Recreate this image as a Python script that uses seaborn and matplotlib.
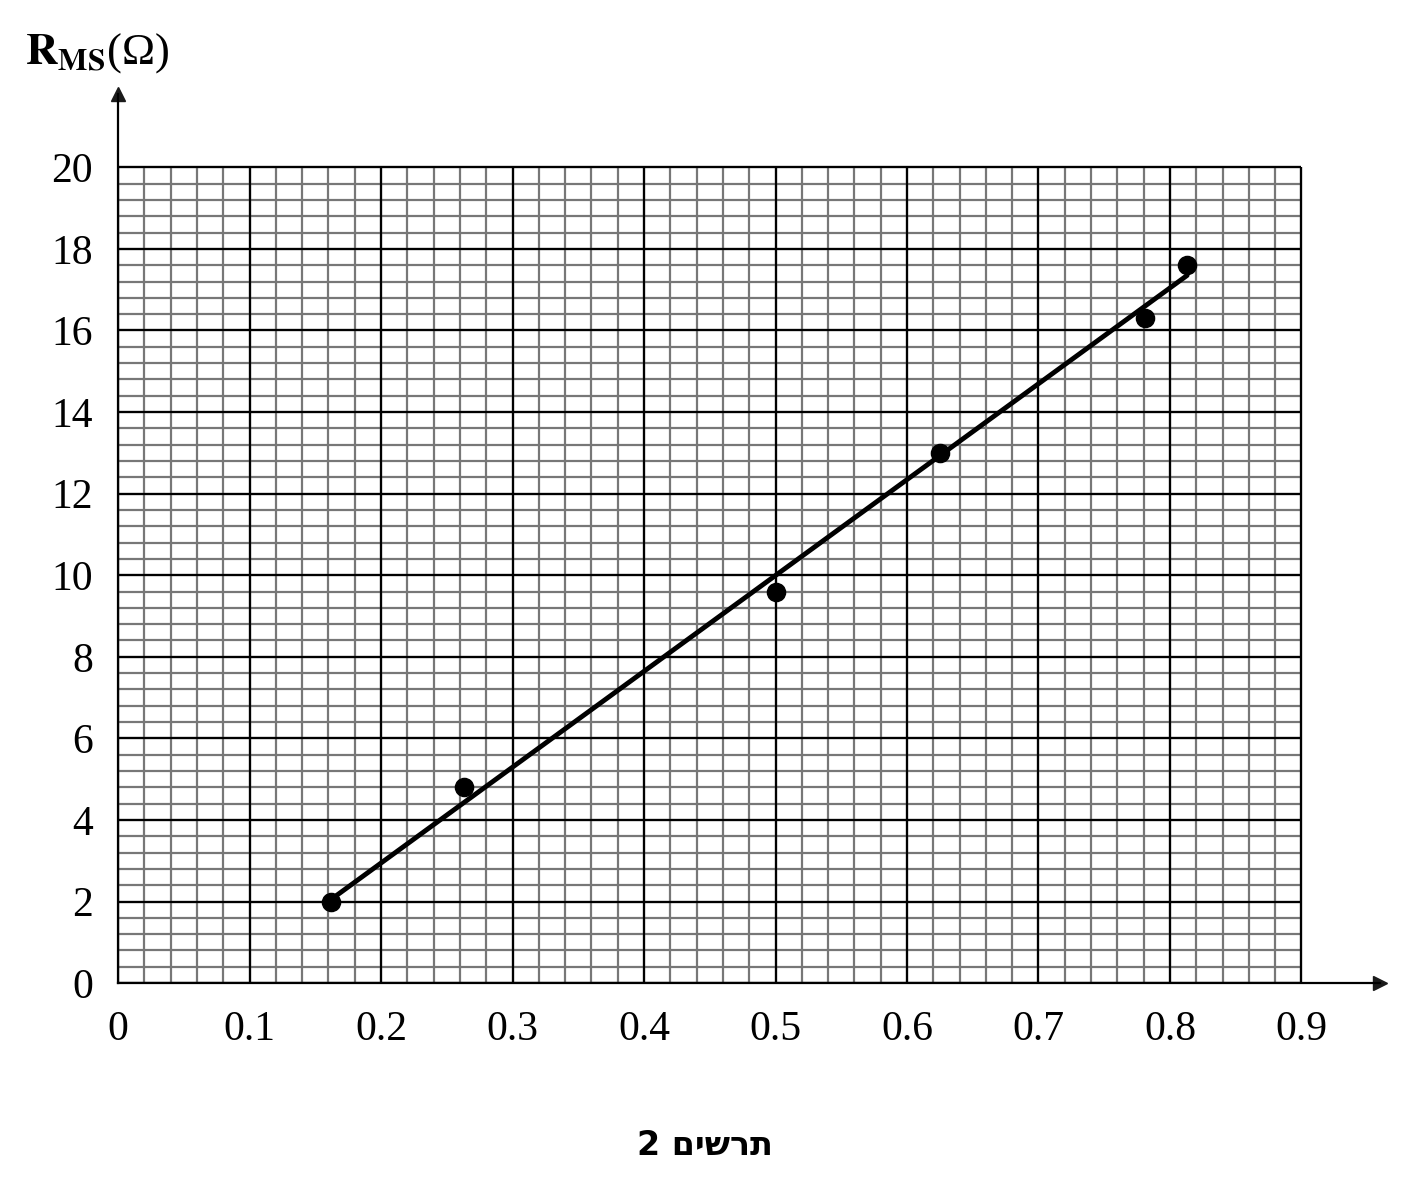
import numpy as np
import matplotlib
matplotlib.use("Agg")
import matplotlib.pyplot as plt
import seaborn as sns

x_vals = [0.162, 0.263, 0.500, 0.625, 0.781, 0.813]
r_vals = [2.0, 4.8, 9.6, 13.0, 16.3, 17.6]
fit_x = [0.162, 0.813]
fit_y = [2.05, 17.35]
x_ticks = [0, 0.1, 0.2, 0.3, 0.4, 0.5, 0.6, 0.7, 0.8, 0.9]
x_labels = ["0", "0.1", "0.2", "0.3", "0.4", "0.5", "0.6", "0.7", "0.8", "0.9"]
y_ticks = [0, 2, 4, 6, 8, 10, 12, 14, 16, 18, 20]
caption = "2 םישרת"

sns.set_theme(style="white")
plt.rcParams['font.family'] = ['Liberation Serif', 'DejaVu Serif']
plt.rcParams['mathtext.fontset'] = 'stix'

fig = plt.figure(figsize=(14.1, 11.83), dpi=100)
ax = fig.add_axes([0.0837, 0.169, 0.979 - 0.0837, 0.9206 - 0.169])
ax.set_xlim(0, 0.96)
ax.set_ylim(0, 21.8)

minor_x = np.round(np.arange(0, 0.9001, 0.02), 4)
minor_y = np.round(np.arange(0, 20.001, 0.4), 4)
ax.vlines(minor_x, 0, 20, color="#777777", lw=1.6, zorder=1)
ax.hlines(minor_y, 0, 0.9, color="#777777", lw=1.6, zorder=1)
ax.vlines(x_ticks, 0, 20, color="black", lw=1.6, zorder=2)
ax.hlines(y_ticks, 0, 0.9, color="black", lw=1.6, zorder=2)

sns.lineplot(x=fit_x, y=fit_y, ax=ax, color="black", lw=3.5, zorder=3)
sns.scatterplot(x=x_vals, y=r_vals, ax=ax, color="black", s=170, edgecolor="black", zorder=4)

for s in ["top", "right"]:
    ax.spines[s].set_visible(False)
for s in ["left", "bottom"]:
    ax.spines[s].set_color("black")
    ax.spines[s].set_linewidth(1.6)
ax.plot(1, 0, ">k", transform=ax.get_yaxis_transform(), clip_on=False, ms=10)
ax.plot(0, 1, "^k", transform=ax.get_xaxis_transform(), clip_on=False, ms=10)

ax.set_xticks(x_ticks)
ax.set_xticklabels(x_labels)
ax.set_yticks(y_ticks)
ax.tick_params(axis="both", direction="out", length=16, width=1.6, color="black",
               labelsize=30, labelcolor="black", pad=4)
ax.tick_params(axis="y", pad=2)

fig.text(0.018, 0.955, r"$\mathbf{R_{MS}}$(Ω)", fontsize=32, color="black", ha="left", va="center")
fig.text(0.5, 0.032, caption, fontsize=24, fontweight="bold", family=["DejaVu Sans"],
         ha="center", va="center", color="black")

fig.savefig("out.png", dpi=100)
